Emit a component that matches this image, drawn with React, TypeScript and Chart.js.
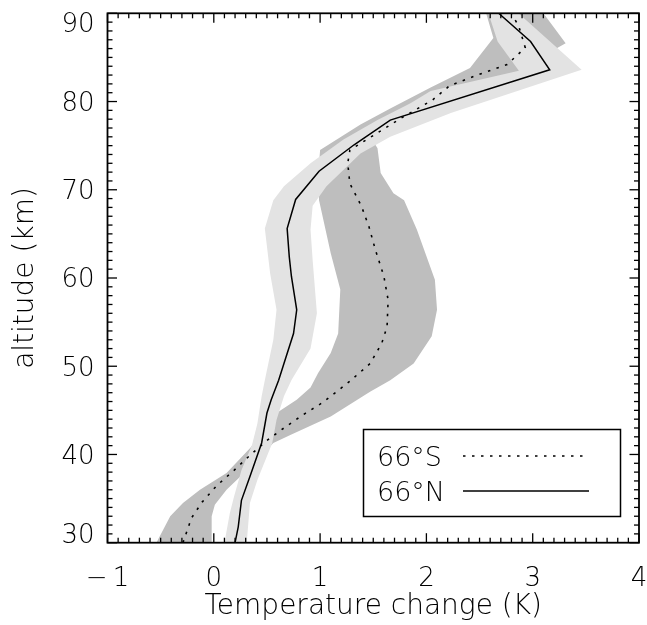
import React, { useEffect, useRef } from 'react';
import { Chart, registerables } from 'chart.js';

Chart.register(...registerables);

// ---- data (temperature change in K vs altitude in km) ----
const xMin = -1;
const xMax = 4;
const yMin = 30;
const yMax = 90;

// 66°N mean profile (solid)
const nAlt = [30.0, 31.8, 34.8, 37.5, 41.3, 44.7, 46.2, 48.4, 50.3, 53.7, 56.4, 60.2, 62.4, 65.6, 68.9, 72.1, 75.1, 77.9, 83.6, 86.8, 90.0];
const nTemp = [0.20, 0.23, 0.26, 0.34, 0.45, 0.50, 0.54, 0.61, 0.66, 0.75, 0.78, 0.73, 0.71, 0.69, 0.77, 0.99, 1.32, 1.66, 3.16, 2.98, 2.68];

// 66°S mean profile (dotted)
const sAlt = [30.0, 31.4, 32.8, 34.6, 36.5, 38.2, 39.9, 41.6, 43.0, 44.5, 45.7, 46.6, 48.3, 50.3, 52.6, 54.5, 57.5, 60.2, 63.2, 65.8, 68.1, 70.7, 73.0, 74.5, 78.1, 80.2, 81.8, 83.1, 84.2, 86.1, 88.5, 90.0];
const sTemp = [-0.29, -0.25, -0.21, -0.11, 0.03, 0.19, 0.34, 0.50, 0.66, 0.84, 1.00, 1.10, 1.28, 1.47, 1.58, 1.63, 1.64, 1.60, 1.52, 1.46, 1.39, 1.28, 1.26, 1.28, 1.76, 2.06, 2.22, 2.50, 2.76, 2.93, 2.87, 2.80];

// 66°N uncertainty band (light grey)
const nBandLoAlt = [30.0, 33.3, 35.2, 38.2, 41.1, 43.5, 46.6, 48.4, 53.0, 56.4, 60.5, 65.6, 68.8, 70.4, 73.0, 75.7, 77.9, 79.8, 81.2, 83.5, 86.8, 90.5];
const nBandLo = [0.10, 0.15, 0.19, 0.26, 0.36, 0.41, 0.45, 0.48, 0.56, 0.59, 0.53, 0.48, 0.56, 0.66, 0.91, 1.22, 1.54, 1.85, 2.04, 2.87, 2.67, 2.57];
const nBandHiAlt = [30.0, 34.5, 37.1, 41.3, 43.9, 46.6, 48.4, 52.0, 56.0, 62.0, 65.5, 68.2, 70.4, 74.1, 76.0, 78.7, 83.6, 90.5];
const nBandHi = [0.31, 0.34, 0.41, 0.55, 0.59, 0.66, 0.73, 0.91, 0.97, 0.93, 0.91, 0.93, 1.06, 1.38, 1.66, 2.23, 3.46, 2.82];

// 66°S uncertainty band (dark grey)
const sBandLoAlt = [30.0, 33.0, 34.5, 36.0, 37.9, 40.7, 42.5, 44.7, 46.2, 47.6, 49.2, 51.5, 53.7, 58.7, 62.8, 68.8, 71.5, 74.5, 77.4, 79.2, 81.6, 83.8, 87.2, 90.5];
const sBandLo = [-0.54, -0.41, -0.29, -0.13, 0.12, 0.34, 0.47, 0.59, 0.78, 0.91, 0.98, 1.10, 1.17, 1.19, 1.10, 0.99, 0.98, 1.00, 1.38, 1.66, 2.04, 2.41, 2.63, 2.55];
const sBandHiAlt = [30.0, 33.0, 34.3, 36.0, 37.5, 41.3, 42.2, 44.3, 47.1, 48.4, 50.3, 53.4, 56.4, 59.8, 65.5, 68.8, 69.6, 71.9, 74.7, 75.5, 77.0, 80.0, 83.6, 84.5, 86.6, 90.5];
const sBandHi = [-0.02, -0.02, 0.01, 0.12, 0.25, 0.56, 0.72, 1.10, 1.47, 1.66, 1.88, 2.05, 2.10, 2.08, 1.91, 1.79, 1.69, 1.57, 1.54, 1.50, 1.75, 2.20, 2.90, 3.00, 3.31, 3.07];

const seriesLabels = ['66°S', '66°N'];
const xTitle = 'Temperature change (K)';
const yTitle = 'altitude (km)';

const FONT = '"DejaVu Sans", "Liberation Sans", sans-serif';
const WEIGHT = '200';
const LIGHT = '#e3e3e3';
const DARK = '#bebebe';

const pts = (alt: number[], val: number[]) => alt.map((a, i) => ({ x: val[i], y: a }));
const band = (loAlt: number[], lo: number[], hiAlt: number[], hi: number[]) => [
  ...pts(loAlt, lo),
  ...pts(hiAlt, hi).reverse(),
];

const idlFrame = {
  id: 'idlFrame',
  afterDatasetsDraw(chart: any) {
    const { ctx, chartArea: a, scales } = chart;
    const x = scales.x;
    const y = scales.y;
    ctx.save();
    ctx.strokeStyle = '#000';
    ctx.lineWidth = 1.3;
    const seg = (x1: number, y1: number, x2: number, y2: number) => {
      ctx.beginPath();
      ctx.moveTo(x1, y1);
      ctx.lineTo(x2, y2);
      ctx.stroke();
    };
    // x ticks (major 1, minor 0.1) on bottom and top, pointing inward
    const nx = Math.round((xMax - xMin) * 10);
    for (let i = 0; i <= nx; i++) {
      const px = x.getPixelForValue(xMin + i * 0.1);
      const len = i % 10 === 0 ? 9.5 : 5;
      seg(px, a.bottom, px, a.bottom - len);
      seg(px, a.top, px, a.top + len);
    }
    // y ticks (major 10, minor 1) on left and right
    const ny = yMax - yMin;
    for (let i = 0; i <= ny; i++) {
      const py = y.getPixelForValue(yMin + i);
      const len = i % 10 === 0 ? 9.5 : 5;
      seg(a.left, py, a.left + len, py);
      seg(a.right, py, a.right - len, py);
    }
    ctx.lineWidth = 1.8;
    ctx.strokeRect(a.left, a.top, a.right - a.left, a.bottom - a.top);

    // y tick labels (end labels kept within the frame)
    const fs = 26;
    ctx.font = `${WEIGHT} ${fs}px ${FONT}`;
    ctx.fillStyle = '#000';
    ctx.textAlign = 'right';
    ctx.textBaseline = 'alphabetic';
    const cap = fs * 0.73;
    y.ticks.forEach((t: any) => {
      let cy = y.getPixelForValue(t.value);
      cy = Math.max(a.top + cap / 2, Math.min(a.bottom - cap / 2, cy));
      ctx.fillText(String(t.value), a.left - 13, cy + cap / 2);
    });

    // legend box
    const lx0 = 363.5;
    const lx1 = 620.5;
    const ly0 = 429.5;
    const ly1 = 516.5;
    ctx.lineWidth = 1.5;
    ctx.strokeRect(lx0, ly0, lx1 - lx0, ly1 - ly0);
    ctx.font = `${WEIGHT} 27px ${FONT}`;
    ctx.textAlign = 'left';
    const rows = [
      { label: seriesLabels[0], dash: [2.5, 6.5], yc: 456 },
      { label: seriesLabels[1], dash: [], yc: 491 },
    ];
    rows.forEach((r) => {
      ctx.fillText(r.label, 377, r.yc + (27 * 0.73) / 2);
      ctx.setLineDash(r.dash);
      ctx.lineWidth = 1.5;
      seg(463, r.yc, 589, r.yc);
    });
    ctx.setLineDash([]);
    ctx.restore();
  },
};

export default function App() {
  const ref = useRef<HTMLCanvasElement | null>(null);
  useEffect(() => {
    if (!ref.current) return;
    const chart = new Chart(ref.current, {
      type: 'scatter',
      data: {
        datasets: [
          {
            label: seriesLabels[1],
            data: pts(nAlt, nTemp),
            showLine: true,
            borderColor: '#000',
            borderWidth: 1.5,
            pointRadius: 0,
            fill: false,
            order: 0,
          },
          {
            label: seriesLabels[0],
            data: pts(sAlt, sTemp),
            showLine: true,
            borderColor: '#000',
            borderWidth: 1.6,
            borderDash: [2.5, 6.5],
            pointRadius: 0,
            fill: false,
            order: 1,
          },
          {
            label: seriesLabels[1] + ' range',
            data: band(nBandLoAlt, nBandLo, nBandHiAlt, nBandHi),
            showLine: true,
            borderColor: 'rgba(0,0,0,0)',
            borderWidth: 1,
            backgroundColor: LIGHT,
            pointRadius: 0,
            fill: 'shape',
            order: 2,
          },
          {
            label: seriesLabels[0] + ' range',
            data: band(sBandLoAlt, sBandLo, sBandHiAlt, sBandHi),
            showLine: true,
            borderColor: 'rgba(0,0,0,0)',
            borderWidth: 1,
            backgroundColor: DARK,
            pointRadius: 0,
            fill: 'shape',
            order: 3,
          },
        ],
      },
      options: {
        animation: false,
        responsive: false,
        devicePixelRatio: 1,
        layout: { padding: { top: 13.3, right: 8, left: 0, bottom: 0 } },
        plugins: { legend: { display: false }, tooltip: { enabled: false } },
        scales: {
          x: {
            type: 'linear',
            min: xMin,
            max: xMax,
            grid: { display: false },
            border: { display: false },
            ticks: {
              stepSize: 1,
              autoSkip: false,
              maxRotation: 0,
              padding: 13,
              color: '#000',
              font: { family: FONT, size: 26, weight: WEIGHT },
              callback: (v: any) => (v < 0 ? '\u2212\u2009' + Math.abs(v) : String(v)),
            },
            title: {
              display: true,
              text: xTitle,
              color: '#000',
              font: { family: FONT, size: 28, weight: WEIGHT },
              padding: { top: 0, bottom: 1 },
            },
            afterFit: (s: any) => {
              s.height = 82.3;
              s.paddingLeft = 0;
              s.paddingRight = 0;
            },
          },
          y: {
            type: 'linear',
            min: yMin,
            max: yMax,
            grid: { display: false },
            border: { display: false },
            ticks: { stepSize: 10, display: false },
            title: {
              display: true,
              text: yTitle,
              color: '#000',
              font: { family: FONT, size: 28, weight: WEIGHT },
              padding: { top: 9, bottom: 0 },
            },
            afterFit: (s: any) => {
              s.width = 107.5;
              s.paddingTop = 0;
              s.paddingBottom = 0;
            },
          },
        },
      },
      plugins: [idlFrame],
    } as any);
    return () => chart.destroy();
  }, []);
  return (
    <div style={{ position: 'fixed', left: 0, top: 0, width: 647, height: 625, background: '#fff' }}>
      <canvas ref={ref} width={647} height={625} style={{ display: 'block' }} />
    </div>
  );
}
